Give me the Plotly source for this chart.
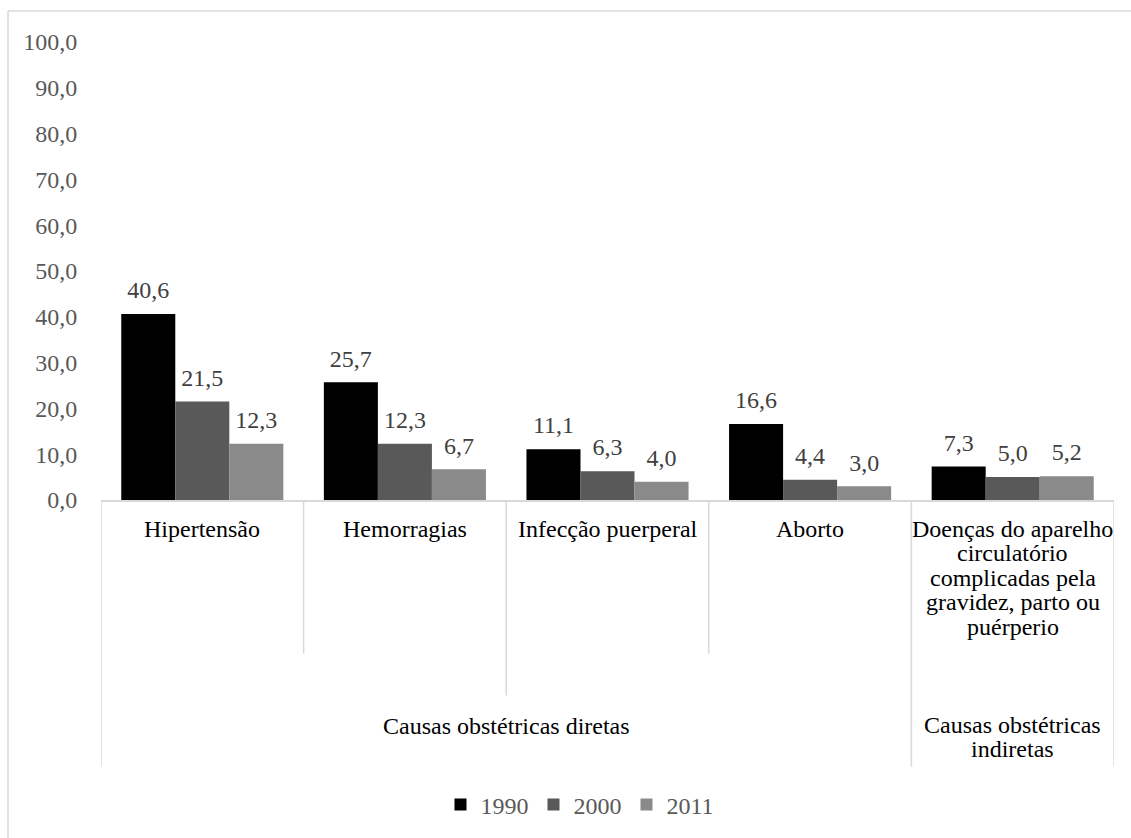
import plotly.graph_objects as go

# Causas de morte materna (1990, 2000, 2011)
causas = [
    "Hipertensão",
    "Hemorragias",
    "Infecção puerperal",
    "Aborto",
    "Doenças do aparelho<br>circulatório<br>complicadas pela<br>gravidez, parto ou<br>puérperio",
]
grupos = ["Causas obstétricas diretas", "Causas obstétricas<br>indiretas"]
grupo_tamanho = [4, 1]

anos = ["1990", "2000", "2011"]
v1990 = [40.6, 25.7, 11.1, 16.6, 7.3]
v2000 = [21.5, 12.3, 6.3, 4.4, 5.0]
v2011 = [12.3, 6.7, 4.0, 3.0, 5.2]
cores = ["#000000", "#595959", "#8a8a8a"]

y_ticks = [0, 10, 20, 30, 40, 50, 60, 70, 80, 90, 100]

FONTE = "Liberation Serif"
TAM = 24
CINZA_LINHA = "#d9d9d9"

# page geometry (pixels)
W, H = 1131, 838
L, R, T, B = 101, 1114, 42, 501


def py(p):
    """pixel row -> paper y"""
    return (B - p) / (B - T)


def px(p):
    """pixel column -> paper x"""
    return (p - L) / (R - L)


def fmt(v):
    return f"{v:.1f}".replace(".", ",")


fig = go.Figure()
series = [v1990, v2000, v2011]
for ano, vals, cor in zip(anos, series, cores):
    fig.add_trace(go.Bar(
        name=ano, x=causas, y=vals, marker=dict(color=cor, line=dict(width=0)),
        hoverinfo="skip",
    ))
# value labels, grouped like the bars
for ano, vals in zip(anos, series):
    fig.add_trace(go.Scatter(
        x=causas, y=vals, mode="markers+text",
        marker=dict(size=14, color="rgba(0,0,0,0)"),
        text=[fmt(v) for v in vals], textposition="top center",
        textfont=dict(family=FONTE, size=TAM, color="#404040"),
        showlegend=False, hoverinfo="skip", cliponaxis=False,
    ))

shapes = []
# frame of the chart area
shapes.append(dict(type="line", xref="paper", yref="paper",
                   x0=px(8), x1=px(W + 5), y0=py(11), y1=py(11),
                   line=dict(color=CINZA_LINHA, width=1.5)))
shapes.append(dict(type="line", xref="paper", yref="paper",
                   x0=px(8), x1=px(8), y0=py(11), y1=py(H + 5),
                   line=dict(color=CINZA_LINHA, width=1.5)))

# separators of the two-level category axis
limites_grupo = [-0.5]
acc = -0.5
for n in grupo_tamanho:
    acc += n
    limites_grupo.append(acc)
fim_especial = {1.5: 697}
for i in range(len(causas) + 1):
    xb = i - 0.5
    if any(abs(xb - g) < 1e-9 for g in limites_grupo):
        fim = 768
    else:
        fim = fim_especial.get(xb, 655)
    shapes.append(dict(type="line", xref="x", yref="paper",
                       x0=xb, x1=xb, y0=py(B), y1=py(fim),
                       line=dict(color=CINZA_LINHA, width=1.5)))

annotations = []
# first level: causes, one annotation per wrapped line
for i, c in enumerate(causas):
    for k, linha in enumerate(c.split("<br>")):
        annotations.append(dict(
            x=i, xref="x", y=py(530 + 24.5 * k), yref="paper",
            text=linha, showarrow=False, xanchor="center", yanchor="middle",
            font=dict(family=FONTE, size=TAM, color="#000000"),
        ))
# second level: groups
inicio = 0
for g, n in zip(grupos, grupo_tamanho):
    centro = inicio + (n - 1) / 2
    linhas = g.split("<br>")
    for k, linha in enumerate(linhas):
        y0 = 727 if len(linhas) == 1 else 726 + 24.5 * k
        annotations.append(dict(
            x=centro, xref="x", y=py(y0), yref="paper",
            text=linha, showarrow=False, xanchor="center", yanchor="middle",
            font=dict(family=FONTE, size=TAM, color="#000000"),
        ))
    inicio += n

fig.update_layout(
    width=W, height=H,
    margin=dict(l=L, r=W - R, t=T, b=H - B, pad=0),
    paper_bgcolor="white", plot_bgcolor="white",
    separators=",.",
    barmode="group", bargap=0.2, bargroupgap=0,
    scattermode="group", scattergap=0.2,
    font=dict(family=FONTE, size=TAM, color="#595959"),
    xaxis=dict(
        type="category", categoryorder="array", categoryarray=causas,
        range=[-0.5, len(causas) - 0.5],
        showticklabels=False, ticks="", showgrid=False, zeroline=False,
        showline=True, linecolor=CINZA_LINHA, linewidth=1.5,
    ),
    yaxis=dict(
        range=[0, 100], tickvals=y_ticks, tickformat=".1f",
        showgrid=False, zeroline=False, showline=False,
        ticks="outside", ticklen=18, tickcolor="rgba(0,0,0,0)",
        tickfont=dict(family=FONTE, size=TAM, color="#595959"),
    ),
    showlegend=True,
    legend=dict(
        orientation="h", x=px(580), xanchor="center", y=py(805), yanchor="middle",
        font=dict(family=FONTE, size=TAM, color="#595959"),
        bgcolor="rgba(0,0,0,0)", itemclick=False, itemdoubleclick=False,
    ),
    shapes=shapes, annotations=annotations,
)

fig.write_html("out.html")
